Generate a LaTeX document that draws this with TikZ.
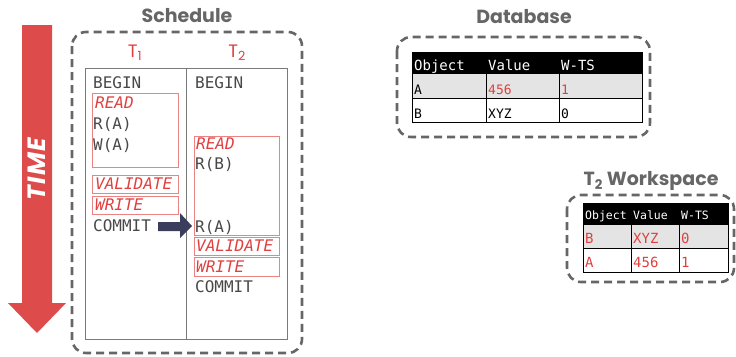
\documentclass[tikz,border=0pt]{standalone}
\usepackage{fontspec}
\setmainfont{Poppins}
\newfontfamily\monof{DejaVu Sans Mono}
\usetikzlibrary{calc}
\definecolor{tred}{HTML}{E0403F}
\definecolor{tgray}{HTML}{484848}
\definecolor{boxgray}{HTML}{666666}
\definecolor{navy}{HTML}{3B3D5C}
\definecolor{rowgray}{HTML}{E4E4E4}
\definecolor{arrred}{HTML}{DD4B4B}
\definecolor{linegray}{HTML}{7A7A7A}
\begin{document}
\begin{tikzpicture}[x=1pt,y=-1pt,
  mono/.style={font=\monof\fontsize{16}{16}\selectfont, text=tgray, inner sep=0pt, anchor=base west},
  opname/.style={font=\monof\itshape\fontsize{16}{16}\selectfont, text=tred, inner sep=0pt, anchor=base west},
  phase/.style={draw=tred!65, line width=0.9pt},
  dbox/.style={draw=boxgray, line width=2.6pt, dash pattern=on 8pt off 5pt, rounded corners=14pt},
  title/.style={font=\bfseries\fontsize{19}{19}\selectfont, text=boxgray, inner sep=0pt},
  txlabel/.style={font=\fontsize{18}{18}\selectfont, text=tred, inner sep=0pt},
  dbhead/.style={font=\monof\fontsize{14}{14}\selectfont, text=white, inner sep=0pt, anchor=base west},
  dbcell/.style={font=\monof\fontsize{13}{13}\selectfont, text=black, inner sep=0pt, anchor=base west},
  wshead/.style={font=\monof\fontsize{11.5}{11.5}\selectfont, text=white, inner sep=0pt, anchor=base west},
  wscell/.style={font=\monof\fontsize{14}{14}\selectfont, text=tred, inner sep=0pt, anchor=base west},
  grid/.style={draw=black, line width=0.9pt}
]
\useasboundingbox (0,0) rectangle (736,356);

% ---------- TIME arrow ----------
\fill[arrred] (22,25) -- (52,25) -- (52,303) -- (66,303) -- (37,333) -- (8,303) -- (22,303) -- cycle;
\node[rotate=90, text=white, font=\bfseries\itshape\fontsize{25}{25}\selectfont\addfontfeatures{LetterSpace=5}, inner sep=0pt] (time) at (37,169) {TIME};

% ---------- Schedule ----------
\node[title] (schedT) at (187,16) {Schedule};
\draw[dbox] (72,32) rectangle (302,353);
\draw[draw=linegray, line width=1pt] (85,68) rectangle (287,339);
\draw[draw=linegray, line width=1pt] (186,68) -- (186,339);
\node[txlabel] (t1) at (135,53) {T\textsubscript{1}};
\node[txlabel] (t2) at (237,53) {T\textsubscript{2}};

% T1 column
\draw[phase] (92,93) rectangle (178,167);
\draw[phase] (92,175) rectangle (178,193);
\draw[phase] (92,196) rectangle (178,214);
\node[mono] (b1) at (93,88) {BEGIN};
\node[opname] (r1) at (95,108) {READ};
\node[mono] (ra1) at (93,129) {R(A)};
\node[mono] (wa1) at (93,150) {W(A)};
\node[opname] (v1) at (95,189) {VALIDATE};
\node[opname] (w1) at (95,210) {WRITE};
\node[mono] (c1) at (93,231) {COMMIT};

% T2 column
\draw[phase] (194,136) rectangle (279,235);
\draw[phase] (194,237) rectangle (279,255);
\draw[phase] (194,257) rectangle (279,276);
\node[mono] (b2) at (195,88) {BEGIN};
\node[opname] (r2) at (196,149) {READ};
\node[mono] (rb2) at (195,169) {R(B)};
\node[mono] (ra2) at (195,232) {R(A)};
\node[opname] (v2) at (196,251) {VALIDATE};
\node[opname] (w2) at (196,272) {WRITE};
\node[mono] (c2) at (195,292) {COMMIT};

% block arrow COMMIT -> R(A)
\fill[navy] (158,222) -- (180,222) -- (180,213) -- (192,226) -- (180,238) -- (180,231) -- (158,231) -- cycle;

% ---------- Database ----------
\node[title] (dbT) at (524,17) {Database};
\draw[dbox] (397,37) rectangle (650,137);
\fill[black] (412,52) rectangle (642,74);
\fill[rowgray] (412,74) rectangle (642,98);
\draw[grid] (412,52) rectangle (642,122);
\draw[grid] (412,98) -- (642,98);
\draw[grid] (486,74) -- (486,122);
\draw[grid] (559,74) -- (559,122);
\node[dbhead] (dh1) at (414,70) {Object};
\node[dbhead] (dh2) at (488,70) {Value};
\node[dbhead] (dh3) at (561,70) {W-TS};
\node[dbcell] (da1) at (414,94) {A};
\node[dbcell, text=tred] (da2) at (488,94) {456};
\node[dbcell, text=tred] (da3) at (561,94) {1};
\node[dbcell] (db1) at (414,118) {B};
\node[dbcell] (db2) at (488,118) {XYZ};
\node[dbcell] (db3) at (561,118) {0};

% ---------- T2 Workspace ----------
\node[title] (wsT) at (651,181) {T\textsubscript{2} Workspace};
\draw[dbox] (567,195) rectangle (734,282);
\fill[black] (583,203) rectangle (728,225);
\fill[rowgray] (583,225) rectangle (728,248);
\draw[grid] (583,203) rectangle (728,272);
\draw[grid] (583,248) -- (728,248);
\draw[grid] (631,225) -- (631,272);
\draw[grid] (679,225) -- (679,272);
\node[wshead] (wh1) at (585,219) {Object};
\node[wshead] (wh2) at (633,219) {Value};
\node[wshead] (wh3) at (681,219) {W-TS};
\node[wscell] (wb1) at (585,243) {B};
\node[wscell] (wb2) at (633,243) {XYZ};
\node[wscell] (wb3) at (681,243) {0};
\node[wscell] (wa1) at (585,267) {A};
\node[wscell] (wa2) at (633,267) {456};
\node[wscell] (wa3) at (681,267) {1};
\end{tikzpicture}
\end{document}
